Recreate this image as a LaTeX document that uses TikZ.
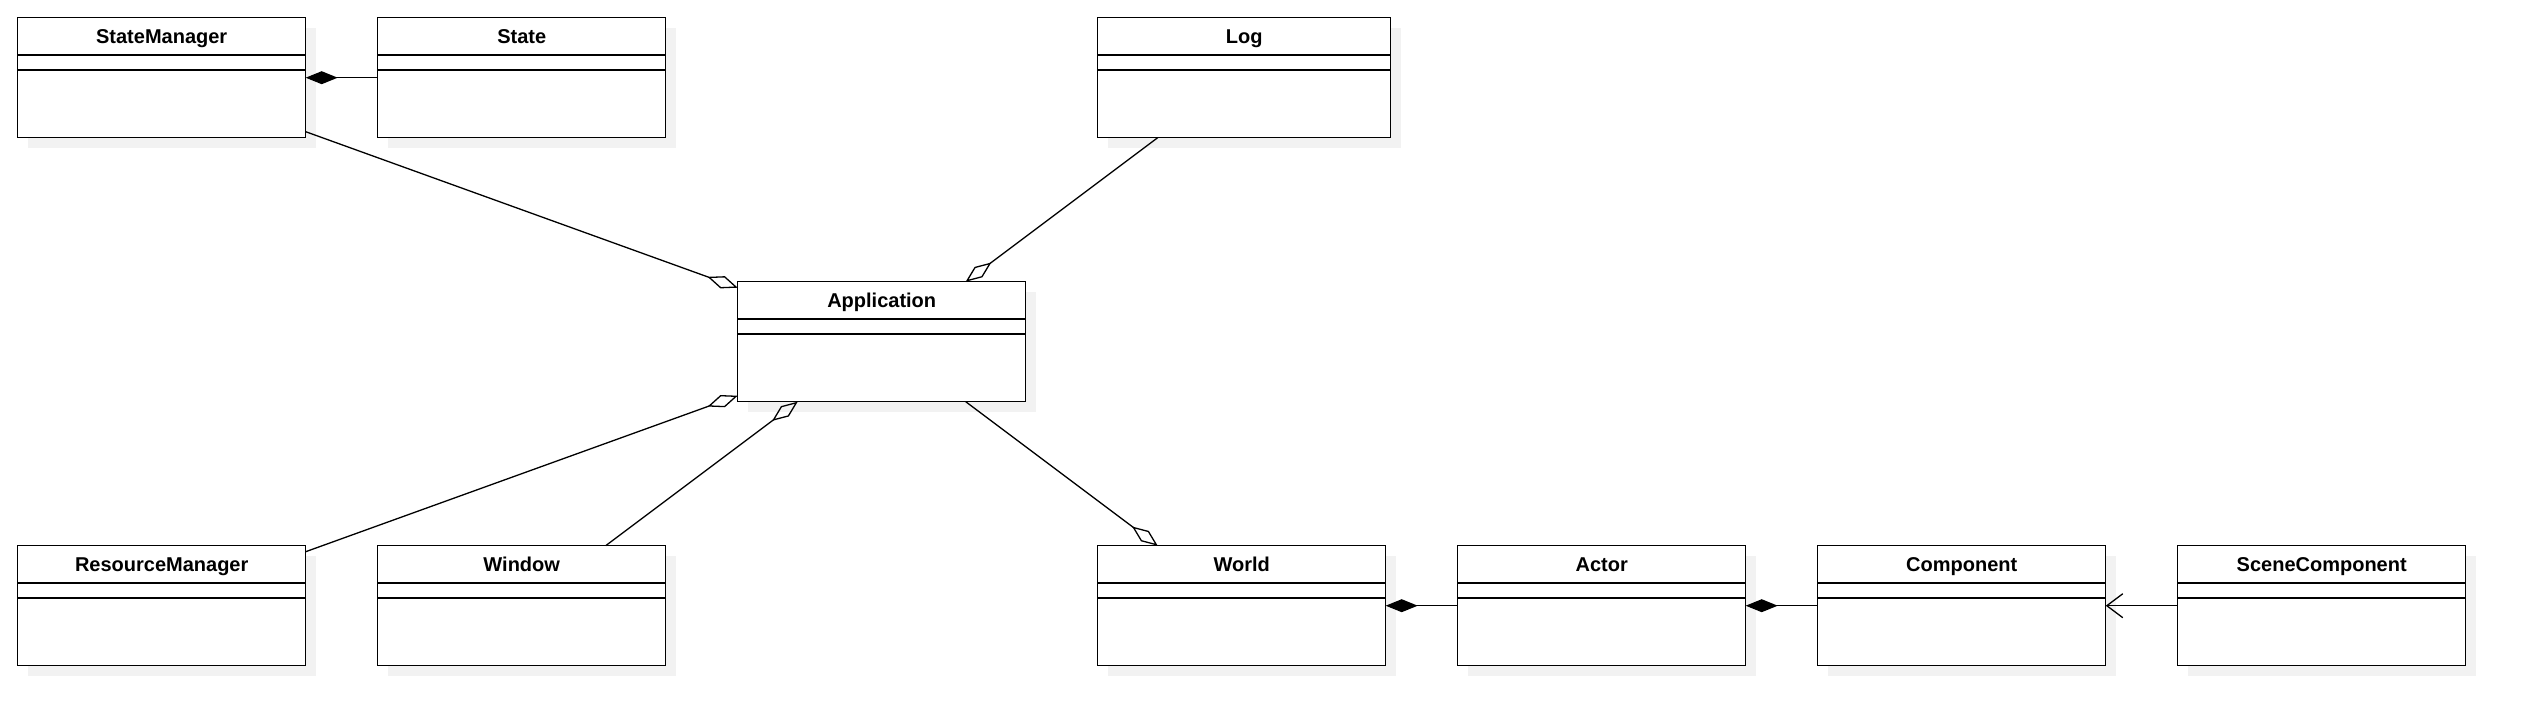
\documentclass[tikz,border=0pt]{standalone}
\usepackage{fontspec}
\setmainfont{Liberation Sans}
\usepackage{tikz}
\usetikzlibrary{positioning, arrows.meta, shadows}
\definecolor{shadowgray}{RGB}{242,242,242}
\tikzset{
  umlclass/.style={draw, line width=0.75pt, fill=white, inner sep=0pt, outer sep=0pt,
                   minimum width=144pt, minimum height=60pt,
                   text height=13pt, text depth=47pt,
                   font=\fontsize{10pt}{12pt}\selectfont\bfseries,
                   drop shadow={shadow xshift=5pt, shadow yshift=-5pt,
                                fill=shadowgray, opacity=1},
                   path picture={
                     \draw[line width=0.75pt]
                       ([yshift=-18.65pt]path picture bounding box.north west) --
                       ([yshift=-18.65pt]path picture bounding box.north east);
                     \draw[line width=0.75pt]
                       ([yshift=-26.15pt]path picture bounding box.north west) --
                       ([yshift=-26.15pt]path picture bounding box.north east);
                   }},
  aggr/.style ={line width=0.65pt, -{Diamond[open, length=16pt, width=6.5pt]}},
  comp/.style ={line width=0.65pt, -{Diamond[length=16pt, width=6.5pt]}},
  uses/.style ={line width=0.65pt, -{Straight Barb[length=8pt, width=12pt]}},
}
\begin{document}
\begin{tikzpicture}[node distance=36pt]
  \useasboundingbox (0,0) rectangle (1261.5pt,-361.5pt);
  % top row
  \node[umlclass, anchor=north west] (SM) at (8.85pt,-8.85pt) {StateManager};
  \node[umlclass, right=of SM] (State) {State};
  \node[umlclass, below right=72pt and 36pt of State] (App) {Application};
  \node[umlclass, minimum width=146.5pt, above right=72pt and 36pt of App] (Log) {Log};
  % bottom row
  \node[umlclass, below left=72pt and 36pt of App] (Win) {Window};
  \node[umlclass, left=of Win] (RM) {ResourceManager};
  \node[umlclass, below right=72pt and 36pt of App] (World) {World};
  \node[umlclass, right=of World] (Actor) {Actor};
  \node[umlclass, right=of Actor] (Comp) {Component};
  \node[umlclass, right=of Comp] (SceneComp) {SceneComponent};
  % relations
  \draw[comp] (State.west) -- (SM.east);
  \draw[aggr] ([yshift=3pt]SM.south east) -- ([yshift=-3pt]App.north west);
  \draw[aggr] ([xshift=30pt]Log.south west) -- ([xshift=-30pt]App.north east);
  \draw[aggr] ([yshift=-3pt]RM.north east) -- ([yshift=3pt]App.south west);
  \draw[aggr] ([xshift=-30pt]Win.north east) -- ([xshift=30pt]App.south west);
  \draw[aggr] ([xshift=-30pt]App.south east) -- ([xshift=30pt]World.north west);
  \draw[comp] (Actor.west) -- (World.east);
  \draw[comp] (Comp.west) -- (Actor.east);
  \draw[uses] (SceneComp.west) -- (Comp.east);
\end{tikzpicture}
\end{document}
